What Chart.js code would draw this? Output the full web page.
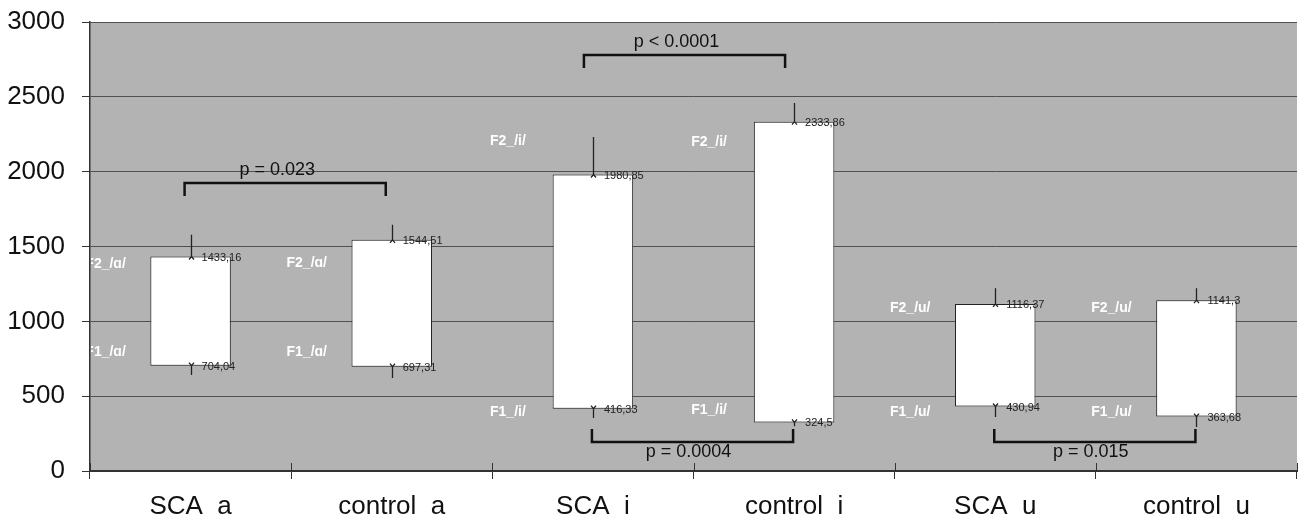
<!DOCTYPE html>
<html>
<head>
<meta charset="utf-8">
<script src="https://cdn.jsdelivr.net/npm/chart.js@4.4.1/dist/chart.umd.min.js"></script>
<style>
  html, body { margin: 0; padding: 0; background: #fff; }
  #wrap { width: 1301px; height: 523px; }
</style>
</head>
<body>
<div id="wrap"><canvas id="formants"></canvas></div>
<script>
// Formant ranges F1..F2 (Hz) per group
const categories = ['SCA  a', 'control  a', 'SCA  i', 'control  i', 'SCA  u', 'control  u'];
const f1Values = [704.04, 697.31, 416.33, 324.5, 430.94, 363.68];
const f2Values = [1433.16, 1544.51, 1980.85, 2333.86, 1116.37, 1141.3];
const f2Error = [145, 100, 250, 125, 105, 80];
const f1Error = [63, 76, 62, 26, 70, 70];
const vowelTags = ['ɑ', 'ɑ', 'i', 'i', 'u', 'u'];
const yTicks = [0, 500, 1000, 1500, 2000, 2500, 3000];

// significance brackets: pair of categories, level on the y scale, side
const brackets = [
    { from: 0, to: 1, level: 1925, side: 'top', text: 'p = 0.023' },
    { from: 2, to: 3, level: 2780, side: 'top', text: 'p < 0.0001' },
    { from: 2, to: 3, level: 195, side: 'bottom', text: 'p = 0.0004' },
    { from: 4, to: 5, level: 195, side: 'bottom', text: 'p = 0.015' }
];

// where the white F1/F2 tags sit (y values)
const tagF2At = [1380, 1390, 2205, 2200, 1090, 1090];
const tagF1At = [795, 795, 394, 405, 394, 394];

const FONT = '"Liberation Sans", Arial, sans-serif';

const annotations = {
    id: 'annotations',
    beforeDraw(chart) {
        const { ctx, chartArea: a } = chart;
        ctx.save();
        ctx.fillStyle = '#b3b3b3';
        ctx.fillRect(a.left, a.top, a.right - a.left, a.bottom - a.top);
        ctx.restore();
    },
    afterDatasetsDraw(chart) {
        const { ctx, chartArea: a } = chart;
        const y = chart.scales.y;
        const x = chart.scales.x;
        const bars = chart.getDatasetMeta(0).data;

        ctx.save();

        // small inner part of the category ticks
        ctx.strokeStyle = '#333';
        ctx.lineWidth = 1;
        for (let i = 0; i <= categories.length; i++) {
            const px = Math.round(a.left + (a.right - a.left) * i / categories.length) + 0.5;
            ctx.beginPath();
            ctx.moveTo(px, a.bottom);
            ctx.lineTo(px, a.bottom - 8);
            ctx.stroke();
        }

        // error bars
        ctx.strokeStyle = '#222';
        ctx.lineWidth = 1.3;
        bars.forEach((bar, i) => {
            const cx = Math.round(bar.x) + 0.5;
            const top = y.getPixelForValue(f2Values[i]);
            const bot = y.getPixelForValue(f1Values[i]);
            ctx.beginPath();
            ctx.moveTo(cx, top);
            ctx.lineTo(cx, y.getPixelForValue(f2Values[i] + f2Error[i]));
            ctx.moveTo(cx, bot);
            ctx.lineTo(cx, y.getPixelForValue(f1Values[i] - f1Error[i]));
            ctx.stroke();
            ctx.beginPath();
            ctx.moveTo(cx - 2.5, top + 3);
            ctx.lineTo(cx, top);
            ctx.lineTo(cx + 2.5, top + 3);
            ctx.moveTo(cx - 2.5, bot - 3);
            ctx.lineTo(cx, bot);
            ctx.lineTo(cx + 2.5, bot - 3);
            ctx.stroke();
        });

        // value labels
        ctx.fillStyle = '#222';
        ctx.font = '11px ' + FONT;
        ctx.textAlign = 'left';
        ctx.textBaseline = 'middle';
        bars.forEach((bar, i) => {
            ctx.fillText(String(f2Values[i]).replace('.', ','), bar.x + 11, y.getPixelForValue(f2Values[i]) + 1);
            ctx.fillText(String(f1Values[i]).replace('.', ','), bar.x + 11, y.getPixelForValue(f1Values[i]) + 1);
        });

        // white F1 / F2 tags, clipped to the plot area
        ctx.save();
        ctx.beginPath();
        ctx.rect(a.left + 1, a.top, a.right - a.left, a.bottom - a.top);
        ctx.clip();
        ctx.fillStyle = '#ffffff';
        ctx.font = 'bold 14px ' + FONT;
        ctx.textAlign = 'center';
        bars.forEach((bar, i) => {
            ctx.fillText('F2_/' + vowelTags[i] + '/', bar.x - 85, y.getPixelForValue(tagF2At[i]));
            ctx.fillText('F1_/' + vowelTags[i] + '/', bar.x - 85, y.getPixelForValue(tagF1At[i]));
        });
        ctx.restore();

        // significance brackets
        ctx.strokeStyle = '#111';
        ctx.lineWidth = 2.5;
        ctx.fillStyle = '#111';
        ctx.font = '18px ' + FONT;
        ctx.textAlign = 'center';
        brackets.forEach(b => {
            const shift = b.side === 'top' ? (b.from === 0 ? -6 : -9) : -1;
            const x1 = x.getPixelForValue(b.from) + shift;
            const x2 = x.getPixelForValue(b.to) + shift;
            const by = Math.round(y.getPixelForValue(b.level));
            const dir = b.side === 'top' ? 1 : -1;
            ctx.beginPath();
            ctx.moveTo(x1, by + dir * 13);
            ctx.lineTo(x1, by);
            ctx.lineTo(x2, by);
            ctx.lineTo(x2, by + dir * 13);
            ctx.stroke();
            const mid = (x1 + x2) / 2 - (b.side === 'top' ? 8 : 4);
            ctx.textBaseline = 'middle';
            ctx.fillText(b.text, mid, b.side === 'top' ? by - 13 : by + 10);
        });

        ctx.restore();
    }
};

new Chart(document.getElementById('formants'), {
    type: 'bar',
    data: {
        labels: categories,
        datasets: [{
            data: f1Values.map((v, i) => [v, f2Values[i]]),
            backgroundColor: '#ffffff',
            borderColor: '#222',
            borderWidth: 1,
            borderSkipped: false,
            barPercentage: 0.4,
            categoryPercentage: 1
        }]
    },
    options: {
        responsive: true,
        maintainAspectRatio: false,
        animation: false,
        layout: { padding: { top: 22, right: 4, left: 0, bottom: 0 } },
        plugins: {
            legend: { display: false },
            tooltip: { enabled: false }
        },
        scales: {
            y: {
                min: 0,
                max: 3000,
                afterFit: s => { s.width = 90; s.paddingTop = 0; s.paddingBottom = 0; },
                afterBuildTicks: s => { s.ticks = yTicks.map(v => ({ value: v })); },
                ticks: {
                    color: '#111',
                    padding: 17,
                    callback: v => String(v),
                    font: { family: FONT, size: 26 }
                },
                grid: {
                    color: '#505050',
                    lineWidth: 1,
                    tickLength: 8,
                    tickColor: '#333'
                },
                border: { color: '#333', width: 1.5 }
            },
            x: {
                afterFit: s => { s.height = 52; s.paddingLeft = 0; s.paddingRight = 0; },
                offset: true,
                ticks: {
                    color: '#111',
                    padding: 12,
                    maxRotation: 0,
                    font: { family: FONT, size: 26 }
                },
                grid: {
                    offset: true,
                    drawOnChartArea: false,
                    tickLength: 8,
                    tickColor: '#333'
                },
                border: { color: '#333', width: 2 }
            }
        }
    },
    plugins: [annotations]
});
</script>
</body>
</html>
